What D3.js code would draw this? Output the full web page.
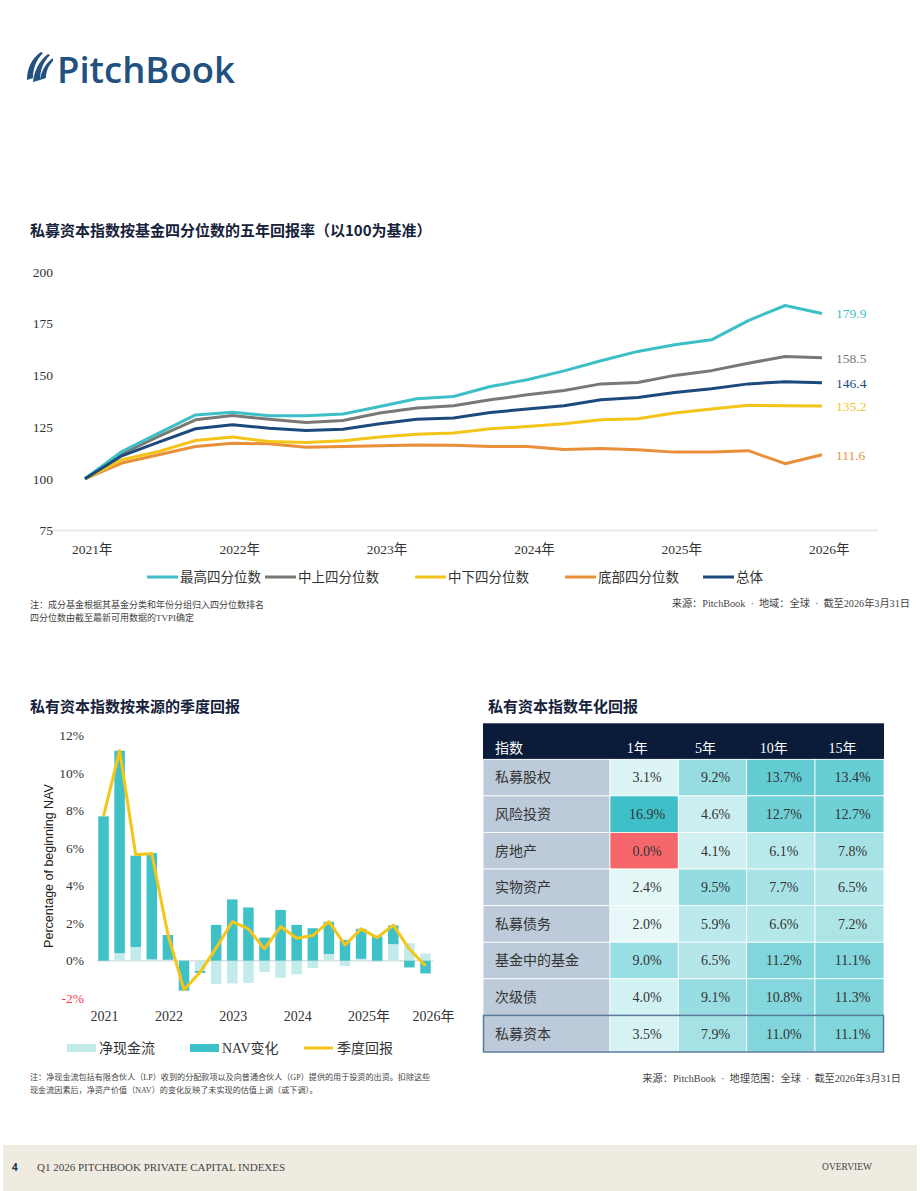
<!DOCTYPE html>
<html>
<head>
<meta charset="utf-8">
<script src="https://cdn.jsdelivr.net/npm/d3@7"></script>
<style>
  body { margin: 0; background: #fff; }
  svg { display: block; }
  text { white-space: pre; }
  .serif { font-family: "Liberation Serif", "Noto Sans CJK SC", serif; }
  .cjk { font-family: "Noto Sans CJK SC", sans-serif; }
</style>
</head>
<body>
<div id="page"></div>
<script>
// ---- line chart data (index = 100 at 2021 Q1)
var yearLabels = ['2021年', '2022年', '2023年', '2024年', '2025年', '2026年'];
var yTicks = [75, 100, 125, 150, 175, 200];
var seriesNames = ['最高四分位数', '中上四分位数', '中下四分位数', '底部四分位数', '总体'];
var topQuartile   = [100, 113.2, 122.1, 130.9, 132.2, 130.5, 130.5, 131.3, 135.0, 138.7, 139.8, 144.6, 147.9, 152.2, 157.1, 161.6, 164.8, 167.2, 176.5, 183.8, 179.9];
var upperMid      = [100, 112.1, 120.5, 128.5, 130.6, 128.8, 127.2, 128.2, 131.8, 134.2, 135.3, 138.2, 140.6, 142.7, 145.9, 146.6, 150.0, 152.3, 155.9, 159.1, 158.5];
var lowerMid      = [100, 109.2, 113.2, 118.5, 120.2, 118.0, 117.6, 118.4, 120.2, 121.6, 122.2, 124.2, 125.3, 126.6, 128.5, 129.0, 131.8, 133.7, 135.6, 135.3, 135.2];
var bottomQuartile= [100, 107.6, 111.6, 115.6, 117.2, 116.9, 115.3, 115.6, 116.0, 116.4, 116.2, 115.6, 115.6, 114.2, 114.7, 114.0, 112.9, 113.0, 113.6, 107.3, 111.6];
var overall       = [100, 111.1, 117.7, 124.2, 126.1, 124.5, 123.4, 124.0, 126.6, 128.8, 129.4, 132.1, 133.7, 135.3, 138.2, 139.3, 141.7, 143.5, 145.9, 146.9, 146.4];
var lineColors = ['#3dbfc7', '#7a7875', '#f5c419', '#e98f3a', '#1d4a7c'];

// ---- quarterly returns by source (% of beginning NAV)
var barYearLabels = ['2021', '2022', '2023', '2024', '2025年', '2026年'];
var barTicks = [-2, 0, 2, 4, 6, 8, 10, 12];
var netCashFlow     = [0, 0.4, 0.73, 0.07, 0.05, 0, -0.55, -1.25, -1.21, -1.18, -0.61, -0.91, -0.73, -0.39, 0.36, -0.29, 0.1, -0.07, 0.88, 0.93, 0.38];
var navChange       = [7.7, 10.8, 4.87, 5.67, 1.32, -1.6, -0.1, 1.91, 3.27, 2.84, 1.23, 2.71, 1.91, 1.73, 1.71, 1.1, 1.6, 1.29, 1.0, -0.36, -0.68];
var quarterlyReturn = [7.7, 11.2, 5.65, 5.72, 1.4, -1.55, -0.62, 0.68, 2.08, 1.7, 0.63, 1.82, 1.2, 1.34, 2.08, 0.84, 1.7, 1.23, 1.9, 0.62, -0.27];

// ---- annualized returns table
var tableHeader = ['指数', '1年', '5年', '10年', '15年'];
var indexNames = ['私募股权', '风险投资', '房地产', '实物资产', '私募债务', '基金中的基金', '次级债', '私募资本'];
var ret1y  = [3.1, 16.9, 0.0, 2.4, 2.0, 9.0, 4.0, 3.5];
var ret5y  = [9.2, 4.6, 4.1, 9.5, 5.9, 6.5, 9.1, 7.9];
var ret10y = [13.7, 12.7, 6.1, 7.7, 6.6, 11.2, 10.8, 11.0];
var ret15y = [13.4, 12.7, 7.8, 6.5, 7.2, 11.1, 11.3, 11.1];

var W = 920, H = 1191;
var svg = d3.select('#page').append('svg').attr('width', W).attr('height', H);

// ---- logo
var logo = svg.append('g').attr('fill', '#22507f');
logo.append('path').attr('d', 'M27,80 C27,68 32,58 41,52 L43,53 C36,60 33,69 33,78 Z');
logo.append('path').attr('d', 'M33,82 C34,71 39,61 48,54 L50,55 C43,62 40,71 40,80 Z');
logo.append('path').attr('d', 'M40,80 C41,71 46,63 53,58 L53,61 C48,66 46,72 46,78 Z');
logo.append('text').attr('x', 57).attr('y', 83)
  .style('font-family', '"Open Sans", sans-serif').style('font-weight', 600)
  .style('font-size', '36.5px').text('PitchBook');

function title(x, y, t) {
  svg.append('text').attr('class', 'cjk').attr('x', x).attr('y', y)
    .style('font-size', '15px').style('font-weight', 700).attr('fill', '#16213a').text(t);
}

// ================= line chart =================
title(30, 236, '私募资本指数按基金四分位数的五年回报率（以100为基准）');

var x = d3.scaleLinear().domain([0, 20]).range([85, 822]);
var y = d3.scaleLinear().domain([75, 200]).range([530.5, 272]);

svg.append('line').attr('x1', 48).attr('x2', 878).attr('y1', y(75)).attr('y2', y(75))
  .attr('stroke', '#e3e3e3').attr('stroke-width', 1.5);

svg.append('g').selectAll('text').data(yTicks).join('text')
  .attr('class', 'serif').attr('x', 53).attr('y', d => y(d)).attr('dy', '0.35em')
  .attr('text-anchor', 'end').style('font-size', '13.5px').attr('fill', '#333')
  .text(d => d);

svg.append('g').selectAll('text').data(yearLabels).join('text')
  .attr('class', 'serif').attr('x', (d, i) => x(i * 4) - 13).attr('y', 554)
  .style('font-size', '13.5px').attr('fill', '#333').text(d => d);

var allSeries = [topQuartile, upperMid, lowerMid, bottomQuartile, overall];
var line = d3.line().x((d, i) => x(i)).y(d => y(d));
// draw overall last so it sits on top like the reference
[3, 2, 1, 0, 4].forEach(function(k) {
  svg.append('path').datum(allSeries[k]).attr('d', line).attr('fill', 'none')
    .attr('stroke', lineColors[k]).attr('stroke-width', 3).attr('stroke-linejoin', 'round');
});

allSeries.forEach(function(s, k) {
  var last = s[s.length - 1];
  svg.append('text').attr('class', 'serif').attr('x', 836).attr('y', y(last)).attr('dy', '0.35em')
    .style('font-size', '13.5px').attr('fill', lineColors[k]).text(last.toFixed(1));
});

var legX = [147, 265, 415, 565, 703];
seriesNames.forEach(function(n, k) {
  svg.append('line').attr('x1', legX[k]).attr('x2', legX[k] + 31).attr('y1', 577).attr('y2', 577)
    .attr('stroke', lineColors[k]).attr('stroke-width', 3);
  svg.append('text').attr('class', 'cjk').attr('x', legX[k] + 33).attr('y', 577).attr('dy', '0.35em')
    .style('font-size', '13.5px').attr('fill', '#333').text(n);
});

function small(x, y, t, anchor, size) {
  svg.append('text').attr('class', 'serif').attr('x', x).attr('y', y)
    .attr('text-anchor', anchor || 'start').style('font-size', (size || 9) + 'px')
    .attr('fill', '#444').text(t);
}
small(30, 608, '注：成分基金根据其基金分类和年份分组归入四分位数排名');
small(30, 621, '四分位数由截至最新可用数据的TVPI确定');
small(910, 607, '来源：PitchBook  ·  地域：全球  ·  截至2026年3月31日', 'end', 10.2);

// ================= bar chart =================
title(30, 712, '私有资本指数按来源的季度回报');

var bx = d3.scaleLinear().domain([0, 20]).range([103.5, 425.5]);
var by = d3.scaleLinear().domain([-2, 12]).range([998.2, 735.7]);
var bw = 10.5;

svg.append('g').selectAll('text').data(barTicks).join('text')
  .attr('class', 'serif').attr('x', 84).attr('y', d => by(d)).attr('dy', '0.35em')
  .attr('text-anchor', 'end').style('font-size', '13.5px')
  .attr('fill', d => d < 0 ? '#ff3b3b' : '#333').text(d => d + '%');

svg.append('text').attr('transform', 'translate(53,866) rotate(-90)')
  .attr('text-anchor', 'middle')
  .style('font-family', '"Liberation Sans", Arial, sans-serif').style('font-size', '12.5px')
  .attr('fill', '#222').text('Percentage of beginning NAV');

svg.append('line').attr('x1', 97).attr('x2', 433).attr('y1', by(0)).attr('y2', by(0))
  .attr('stroke', '#dedede').attr('stroke-width', 1.5);

var barRows = netCashFlow.map((v, i) => ({ i: i, cf: v, nav: navChange[i] }));
var stack = d3.stack().keys(['cf', 'nav']).offset(d3.stackOffsetDiverging);
var layers = stack(barRows);
var barColors = { cf: '#c3ebea', nav: '#3fc1c8' };

svg.append('g').selectAll('g').data(layers).join('g')
  .attr('fill', d => barColors[d.key])
  .selectAll('rect').data(d => d).join('rect')
  .attr('x', d => bx(d.data.i) - bw / 2).attr('width', bw)
  .attr('y', d => by(Math.max(d[0], d[1])))
  .attr('height', d => Math.abs(by(d[0]) - by(d[1])));

svg.append('path').datum(quarterlyReturn)
  .attr('d', d3.line().x((d, i) => bx(i)).y(d => by(d)))
  .attr('fill', 'none').attr('stroke', '#f5c518').attr('stroke-width', 3).attr('stroke-linejoin', 'round');

svg.append('g').selectAll('text').data(barYearLabels).join('text')
  .attr('class', 'serif').attr('x', (d, i) => bx(i * 4) - 13).attr('y', 1021)
  .style('font-size', '14px').attr('fill', '#333').text(d => d);

// legend
svg.append('rect').attr('x', 67).attr('y', 1044).attr('width', 29).attr('height', 8).attr('fill', barColors.cf);
svg.append('text').attr('class', 'cjk').attr('x', 99).attr('y', 1048).attr('dy', '0.35em')
  .style('font-size', '14px').attr('fill', '#333').text('净现金流');
svg.append('rect').attr('x', 190).attr('y', 1044).attr('width', 29).attr('height', 8).attr('fill', barColors.nav);
svg.append('text').attr('class', 'serif').attr('x', 222).attr('y', 1048).attr('dy', '0.35em')
  .style('font-size', '14px').attr('fill', '#333').text('NAV变化');
svg.append('line').attr('x1', 304).attr('x2', 333).attr('y1', 1048).attr('y2', 1048)
  .attr('stroke', '#f5c518').attr('stroke-width', 3);
svg.append('text').attr('class', 'cjk').attr('x', 337).attr('y', 1048).attr('dy', '0.35em')
  .style('font-size', '14px').attr('fill', '#333').text('季度回报');

small(30, 1080, '注：净现金流包括有限合伙人（LP）收到的分配款项以及向普通合伙人（GP）提供的用于投资的出资。扣除这些', 'start', 8.1);
small(30, 1093, '现金流因素后，净资产价值（NAV）的变化反映了未实现的估值上调（或下调）。', 'start', 8.1);

// ================= table =================
title(488, 712, '私有资本指数年化回报');

var colEdges = [483, 610, 678.3, 746.7, 815, 884];
var rowY = d3.scaleLinear().domain([0, 8]).range([759.3, 1052]);
var rowH = rowY(1) - rowY(0);
var cellColor = d3.scaleLinear().domain([0, 2, 17]).range(['#f6676b', '#e8f8f8', '#3ec0c8']);
var cols = [ret1y, ret5y, ret10y, ret15y];

svg.append('rect').attr('x', colEdges[0]).attr('y', 723.3).attr('width', colEdges[5] - colEdges[0])
  .attr('height', rowY(0) - 723.3).attr('fill', '#0a1c3a');
tableHeader.forEach(function(h, c) {
  var cx = c === 0 ? 495 : (colEdges[c] + colEdges[c + 1]) / 2 - 7;
  svg.append('text').attr('class', 'serif').attr('x', cx).attr('y', 748).attr('dy', '0.35em')
    .attr('text-anchor', c === 0 ? 'start' : 'middle')
    .style('font-size', '14px').attr('fill', '#fff').text(h);
});

indexNames.forEach(function(name, r) {
  svg.append('rect').attr('x', colEdges[0]).attr('y', rowY(r)).attr('width', colEdges[1] - colEdges[0])
    .attr('height', rowH).attr('fill', '#bccad9').attr('stroke', '#fff').attr('stroke-width', 0.8);
  svg.append('text').attr('class', 'cjk').attr('x', 495).attr('y', rowY(r) + rowH / 2).attr('dy', '0.35em')
    .style('font-size', '14px').attr('fill', '#333').text(name);
  cols.forEach(function(col, c) {
    var v = col[r];
    svg.append('rect').attr('x', colEdges[c + 1]).attr('y', rowY(r))
      .attr('width', colEdges[c + 2] - colEdges[c + 1]).attr('height', rowH)
      .attr('fill', cellColor(v)).attr('stroke', '#fff').attr('stroke-width', 0.8);
    svg.append('text').attr('class', 'serif')
      .attr('x', (colEdges[c + 1] + colEdges[c + 2]) / 2 + 3).attr('y', rowY(r) + rowH / 2).attr('dy', '0.35em')
      .attr('text-anchor', 'middle').style('font-size', '14px').attr('fill', '#333')
      .text(v.toFixed(1) + '%');
  });
});
svg.append('rect').attr('x', colEdges[0] + 0.5).attr('y', rowY(7)).attr('width', colEdges[5] - colEdges[0] - 1)
  .attr('height', rowH).attr('fill', 'none').attr('stroke', '#5a7a9c').attr('stroke-width', 1.5);

small(901, 1082, '来源：PitchBook  ·  地理范围：全球  ·  截至2026年3月31日', 'end', 10.2);

// ================= footer =================
svg.append('rect').attr('x', 3).attr('y', 1145).attr('width', 914).attr('height', 46).attr('fill', '#efebe0');
svg.append('text').attr('x', 12).attr('y', 1171)
  .style('font-family', '"Open Sans", sans-serif').style('font-weight', 700).style('font-size', '10px')
  .attr('fill', '#1b3156').text('4');
small(37, 1171, 'Q1 2026 PITCHBOOK PRIVATE CAPITAL INDEXES', 'start', 11);
small(872, 1170, 'OVERVIEW', 'end', 9.5);
</script>
</body>
</html>
